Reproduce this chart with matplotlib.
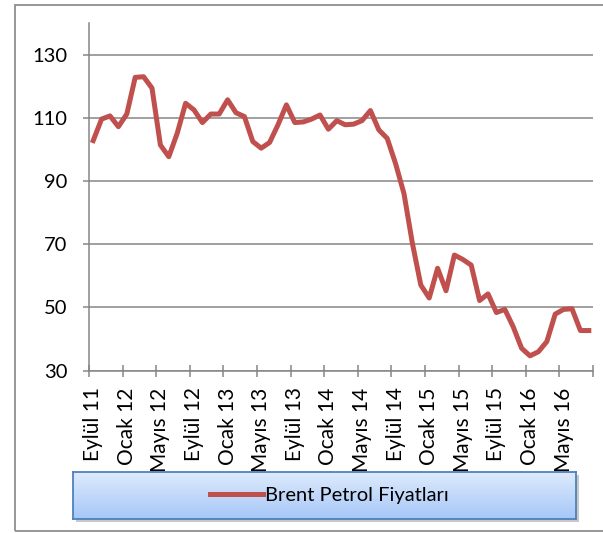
import numpy as np
import matplotlib
matplotlib.use("Agg")
import matplotlib.pyplot as plt
from matplotlib.patches import Rectangle

plt.rcParams["font.family"] = ["Lato", "DejaVu Sans"]

# ---- veri (aylık, Eylül 2011 - Ağustos 2016) ----
ay_adlari = ["Ocak", "Şubat", "Mart", "Nisan", "Mayıs", "Haziran",
             "Temmuz", "Ağustos", "Eylül", "Ekim", "Kasım", "Aralık"]
baslangic_ay = 8      # Eylül
baslangic_yil = 11
ay_sayisi = 60

brent = [102.8, 109.6, 110.6, 107.2, 111.2, 122.8, 123.0, 119.4, 101.4, 97.7,
         105.1, 114.6, 112.5, 108.5, 111.2, 111.2, 115.7, 111.6, 110.4, 102.5,
         100.4, 102.2, 107.8, 114.1, 108.5, 108.7, 109.6, 110.9, 106.4, 109.1,
         107.8, 108.0, 109.1, 112.3, 106.2, 103.5, 95.5, 86.0, 70.3, 57.1,
         53.0, 62.4, 55.3, 66.6, 65.2, 63.4, 52.2, 54.3, 48.4, 49.4,
         43.9, 37.1, 34.7, 36.0, 39.2, 47.9, 49.4, 49.6, 42.7, 42.7]

etiketler = []
for i in range(ay_sayisi):
    k = baslangic_ay + i
    etiketler.append(f"{ay_adlari[k % 12]} {baslangic_yil + k // 12}")

y_ticks = [30, 50, 70, 90, 110, 130]
seri_adi = "Brent Petrol Fiyatları"

# ---- çizim ----
W, H = 603, 533
fig = plt.figure(figsize=(W / 100, H / 100), dpi=100)
gri = "#868686"
fs = 14.5

# dış çerçeve
fig.patches.append(Rectangle((15 / W, 2.3 / H), 1.2, 1 - 6.9 / H,
                             transform=fig.transFigure, fill=False,
                             edgecolor="#8f8f8f", lw=1.3, clip_on=False))

ax = fig.add_axes([89 / W, 1 - 370.7 / H, (593 - 89) / W, (370.7 - 23) / H])
x = np.arange(len(brent))
line, = ax.plot(x, brent, color="#c0504d", lw=3.6, solid_joinstyle="round",
                label=seri_adi, zorder=3)

ax.set_xlim(-0.5, len(brent) - 0.5)
ax.set_ylim(30, 140)
ax.set_yticks(y_ticks)
ax.yaxis.grid(True, color=gri, lw=1.1)
ax.set_axisbelow(True)
for s in ["top", "right"]:
    ax.spines[s].set_visible(False)
for s in ["left", "bottom"]:
    ax.spines[s].set_color(gri)
    ax.spines[s].set_linewidth(1.1)

# ana tikler kategori sınırlarında, etiketler kategori ortasında
ax.set_xticks(np.arange(-0.5, len(brent), 4))
ax.set_xticklabels([])
ax.set_xticks(x[::4], minor=True)
ax.set_xticklabels(etiketler[::4], minor=True, rotation=90, fontsize=15)
ax.tick_params(axis="x", which="major", direction="inout", length=8.5,
               color=gri, width=1.1)
ax.tick_params(axis="x", which="minor", length=0, pad=12)
ax.tick_params(axis="y", direction="out", length=4.5, color=gri, width=1.1,
               pad=11, labelsize=fs)

# lejant kutusu (gradyanlı)
lx0, lx1, ly0, ly1 = 73, 576, 472, 519
golge = Rectangle(((lx0 + 3) / W, 1 - (ly1 + 3) / H),
                  (lx1 - lx0) / W, (ly1 - ly0) / H,
                  transform=fig.transFigure, facecolor="#c8c8c8",
                  edgecolor="none", zorder=-5)
fig.patches.append(golge)
lax = fig.add_axes([lx0 / W, 1 - ly1 / H, (lx1 - lx0) / W, (ly1 - ly0) / H],
                   zorder=2)
grad = np.linspace(0, 1, 64).reshape(-1, 1)
ust = np.array([0.87, 0.92, 0.99])
alt = np.array([0.65, 0.78, 0.97])
renk = ust[None, None, :] * (1 - grad[:, :, None]) + alt[None, None, :] * grad[:, :, None]
lax.imshow(renk, aspect="auto", extent=[0, 1, 0, 1], interpolation="bilinear")
lax.set_xticks([])
lax.set_yticks([])
for s in lax.spines.values():
    s.set_color("#4f81bd")
    s.set_linewidth(1.3)

leg = fig.legend(handles=[line], loc="center",
                 bbox_to_anchor=((lx0 + lx1) / 2 / W + 5 / W,
                                 1 - (ly0 + ly1) / 2 / H),
                 frameon=False, fontsize=fs, handlelength=2.6, handletextpad=0.1)
leg.set_zorder(5)

fig.savefig("out.png", dpi=100)
